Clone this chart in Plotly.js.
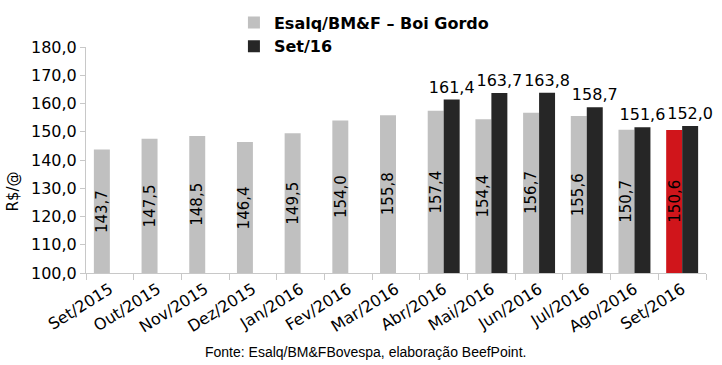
<!DOCTYPE html>
<html>
<head>
<meta charset="utf-8">
<script src="https://cdn.plot.ly/plotly-3.0.1.min.js"></script>
<style>html,body{margin:0;padding:0;background:#fff;}#chart{width:722px;height:365px;}</style>
</head>
<body>
<div id="chart"></div>
<script>
const categories = ["Set/2015","Out/2015","Nov/2015","Dez/2015","Jan/2016","Fev/2016","Mar/2016","Abr/2016","Mai/2016","Jun/2016","Jul/2016","Ago/2016","Set/2016"];
const esalqValues = [143.7,147.5,148.5,146.4,149.5,154.0,155.8,157.4,154.4,156.7,155.6,150.7,150.6];
const set16Values = [null,null,null,null,null,null,null,161.4,163.7,163.8,158.7,151.6,152.0];
const seriesNames = ["Esalq/BM&F – Boi Gordo","Set/16"];
const yTicks = [100,110,120,130,140,150,160,170,180];

const yMin = 100, yMax = 180;
const fmt = v => v == null ? "" : v.toFixed(1).replace(".", ",");
const grayColors = esalqValues.map((v,i) => i === esalqValues.length-1 ? "#d0151b" : "#c0c0c0");

const font = "DejaVu Sans, Verdana, sans-serif";

const traces = [
  {
    type: "bar", name: seriesNames[0], x: categories, y: esalqValues,
    marker: {color: grayColors},
    hoverinfo: "none"
  },
  {
    type: "bar", name: seriesNames[1], x: categories, y: set16Values,
    marker: {color: "#262626"},
    text: set16Values.map(fmt), textposition: "outside", textangle: 0,
    constraintext: "none", cliponaxis: false,
    textfont: {family: font, size: 16, color: "#000"},
    hoverinfo: "none"
  }
];

// value labels inside the gray bars (rotated, centred in the bar)
const insideLabels = esalqValues.map((v, i) => ({
  text: fmt(v), xref: "x", yref: "y", x: categories[i], y: (yMin + v) / 2,
  xshift: -8, textangle: -90, showarrow: false,
  xanchor: "center", yanchor: "middle",
  font: {family: font, size: 15, color: "#000"}
}));

const layout = {
  width: 722, height: 365,
  margin: {l: 86, r: 16, t: 47, b: 92, autoexpand: false},
  paper_bgcolor: "#fff", plot_bgcolor: "#fff",
  barmode: "group", bargap: 0.33, bargroupgap: 0,
  separators: ",.",
  showlegend: true,
  legend: {xref: "container", yref: "container", x: 0.324, y: 0.985,
           xanchor: "left", yanchor: "top", orientation: "v",
           font: {family: font, size: 16, color: "#000", weight: "bold"},
           tracegroupgap: 0, itemwidth: 30, bgcolor: "rgba(0,0,0,0)"},
  xaxis: {
    type: "category", showline: true, linecolor: "#c8c8c8", linewidth: 1,
    ticks: "outside", tickson: "boundaries", ticklen: 6, tickcolor: "#c8c8c8",
    tickangle: -32, tickfont: {family: font, size: 16, color: "#000"},
    showgrid: false, zeroline: false, automargin: false
  },
  yaxis: {
    range: [yMin, yMax], tickvals: yTicks, tickformat: ".1f",
    showline: true, linecolor: "#c8c8c8", linewidth: 1,
    ticks: "outside", ticklen: 5, tickcolor: "#c8c8c8",
    tickfont: {family: font, size: 16, color: "#000"},
    showgrid: false, zeroline: false, automargin: false
  },
  annotations: insideLabels.concat([
    {text: "R$/@", xref: "paper", yref: "paper", x: -0.118, y: 0.36, xanchor: "center", yanchor: "middle",
     textangle: -90, showarrow: false, font: {family: font, size: 15, color: "#000"}},
    {text: "Fonte: Esalq/BM&FBovespa, elaboração BeefPoint.", xref: "paper", yref: "paper",
     x: 0.45, y: -0.35, xanchor: "center", yanchor: "middle", showarrow: false,
     font: {family: "Liberation Sans, Arial, sans-serif", size: 14, color: "#000"}}
  ])
};

Plotly.newPlot("chart", traces, layout, {displayModeBar: false, staticPlot: true});
</script>
</body>
</html>
